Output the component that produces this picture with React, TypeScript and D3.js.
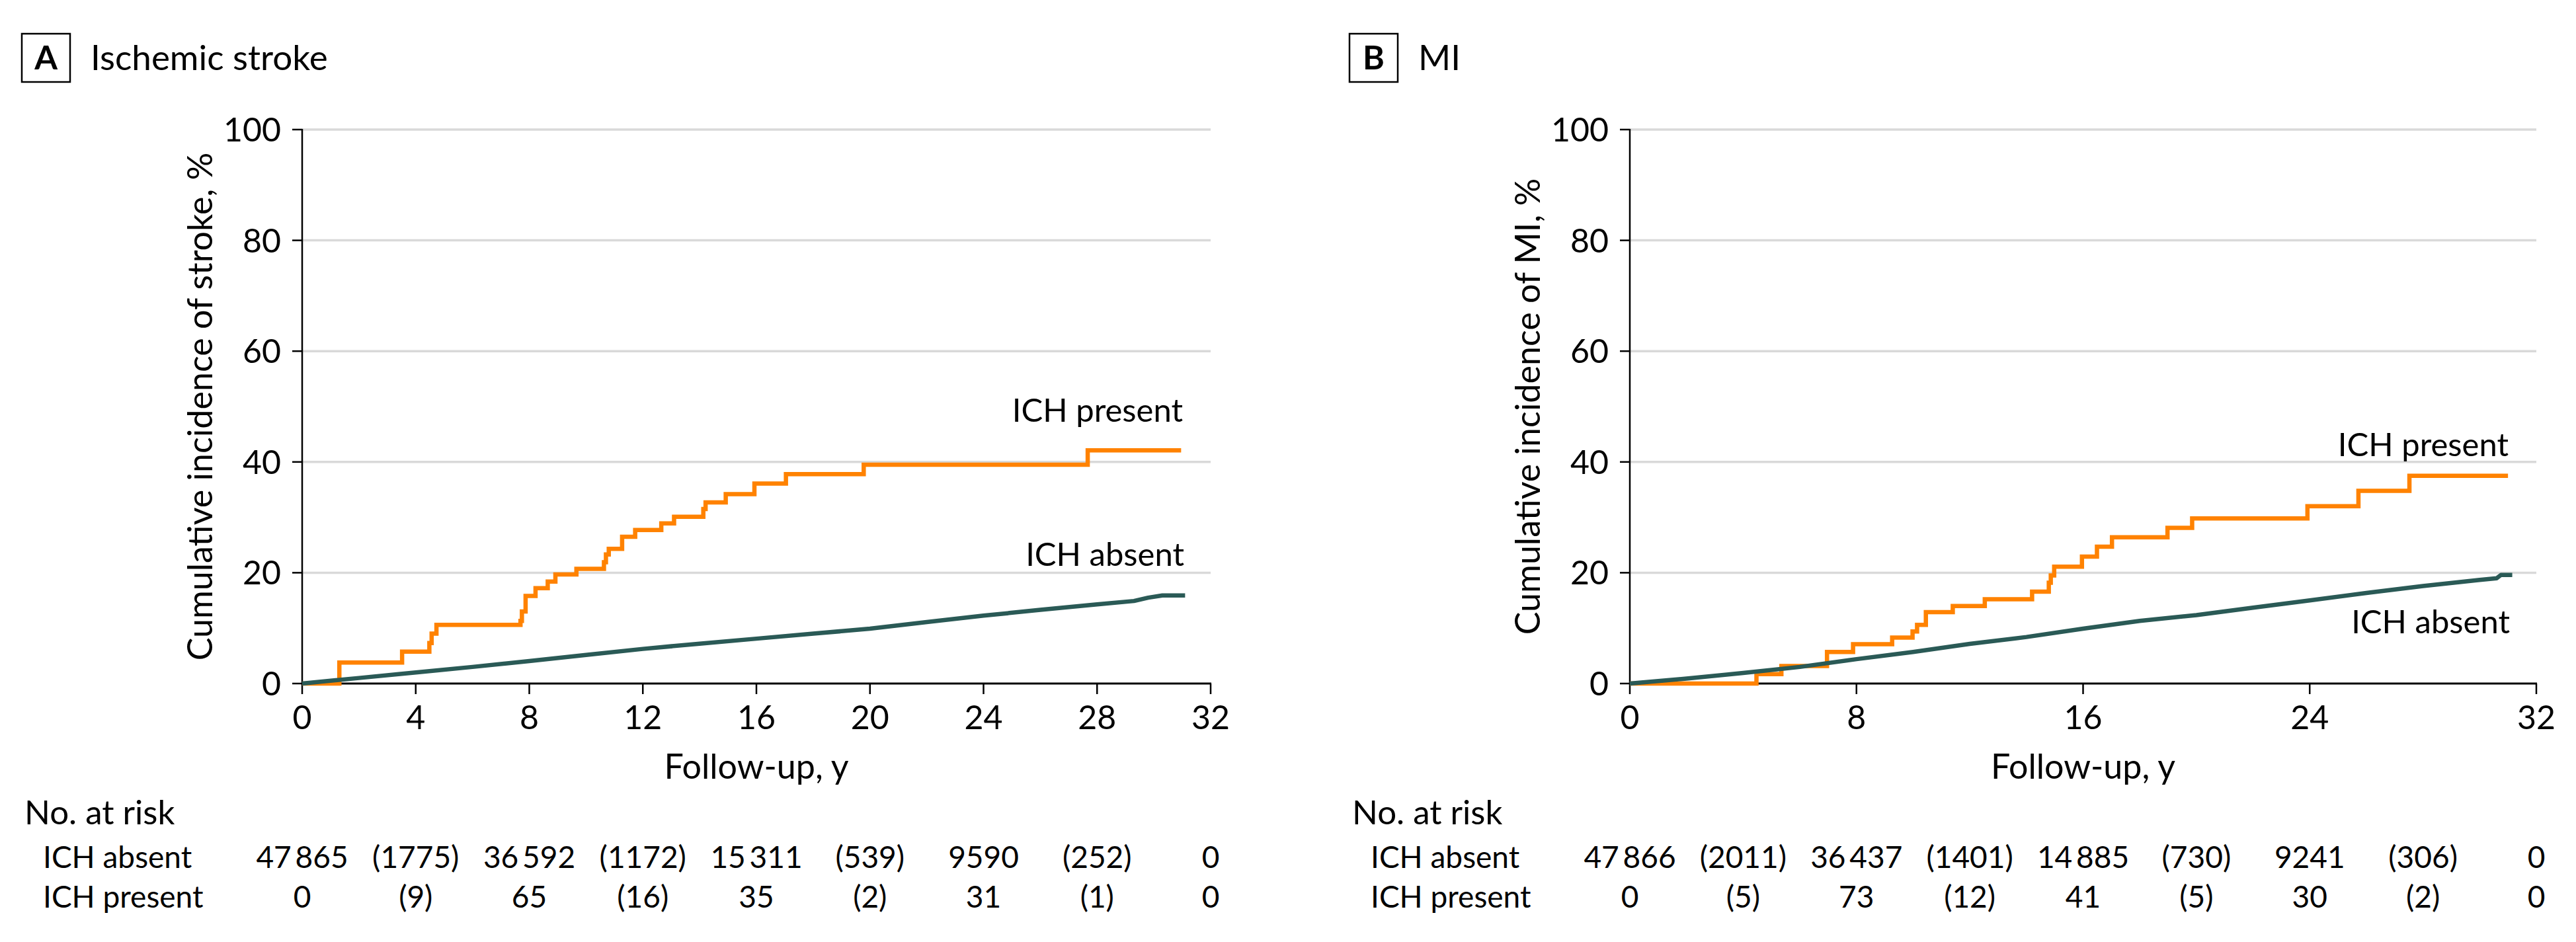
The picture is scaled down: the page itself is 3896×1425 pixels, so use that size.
import React from "react";
import * as d3 from "d3";

// ---------- data ----------
const yTicks = [0, 20, 40, 60, 80, 100];
const xTicksA = [0, 4, 8, 12, 16, 20, 24, 28, 32];
const xTicksB = [0, 8, 16, 24, 32];
const riskYears = [0, 4, 8, 12, 16, 20, 24, 28, 32];

// Panel A: Ischemic stroke
const strokePresentT = [0, 1.31, 3.52, 4.48, 4.56, 4.73, 7.69, 7.74, 7.87, 8.22, 8.65, 8.92, 9.66, 10.63, 10.7, 10.8, 11.27, 11.73, 12.65, 13.1, 14.13, 14.21, 14.92, 15.93, 17.04, 19.78, 27.67, 30.96];
const strokePresentV = [0, 3.8, 5.75, 7.3, 9.0, 10.6, 11.3, 13.0, 15.8, 17.2, 18.4, 19.7, 20.7, 21.9, 23.3, 24.3, 26.5, 27.7, 28.9, 30.1, 31.5, 32.7, 34.2, 36.1, 37.8, 39.5, 42.1, 42.1];
const strokeAbsentT = [0, 2, 4, 6, 8, 10, 12, 14, 16, 18, 20, 22, 24, 26, 28, 29.3, 29.8, 30.3, 31.1];
const strokeAbsentV = [0, 1.0, 2.0, 3.0, 4.05, 5.15, 6.25, 7.2, 8.1, 9.0, 9.9, 11.1, 12.25, 13.3, 14.3, 14.9, 15.5, 15.9, 15.9];
const strokeRiskAbsent = ["47\u2009865", "(1775)", "36\u2009592", "(1172)", "15\u2009311", "(539)", "9590", "(252)", "0"];
const strokeRiskPresent = ["0", "(9)", "65", "(16)", "35", "(2)", "31", "(1)", "0"];

// Panel B: MI
const miPresentT = [0, 4.47, 5.35, 6.96, 7.88, 9.26, 9.98, 10.14, 10.45, 11.4, 12.53, 14.2, 14.79, 14.86, 14.98, 15.96, 16.49, 17.02, 18.98, 19.85, 23.92, 25.72, 27.52, 31.0];
const miPresentV = [0, 1.7, 3.15, 5.7, 7.1, 8.3, 9.4, 10.6, 12.9, 14.0, 15.2, 16.6, 18.2, 19.5, 21.1, 22.9, 24.7, 26.4, 28.1, 29.8, 32.0, 34.8, 37.5, 37.5];
const miAbsentT = [0, 2, 4, 6, 8, 10, 12, 14, 16, 18, 20, 22, 24, 26, 28, 30, 30.6, 30.75, 31.15];
const miAbsentV = [0, 0.9, 1.9, 3.0, 4.4, 5.7, 7.15, 8.4, 9.9, 11.3, 12.35, 13.7, 15.0, 16.35, 17.6, 18.7, 19.0, 19.6, 19.6];
const miRiskAbsent = ["47\u2009866", "(2011)", "36\u2009437", "(1401)", "14\u2009885", "(730)", "9241", "(306)", "0"];
const miRiskPresent = ["0", "(5)", "73", "(12)", "41", "(5)", "30", "(2)", "0"];

// ---------- style ----------
const FONT = "Lato, 'Open Sans', sans-serif";
const ORANGE = "#FF8200";
const TEAL = "#2A5A56";
const GRID = "#D9D9D9";

type PanelProps = {
  letter: string;
  title: string;
  yLabel: string;
  x0: number;
  x1: number;
  xTicks: number[];
  presentT: number[];
  presentV: number[];
  absentT: number[];
  absentV: number[];
  riskAbsent: string[];
  riskPresent: string[];
  presentLabelY: number;
  absentLabelY: number;
};

function Panel(p: PanelProps) {
  const yTop = 196;
  const yBot = 1034;
  const x = d3.scaleLinear().domain([0, 32]).range([p.x0, p.x1]);
  const y = d3.scaleLinear().domain([0, 100]).range([yBot, yTop]);

  const stepLine = d3
    .line<[number, number]>()
    .x((d) => x(d[0]))
    .y((d) => y(d[1]))
    .curve(d3.curveStepAfter);
  const linLine = d3
    .line<[number, number]>()
    .x((d) => x(d[0]))
    .y((d) => y(d[1]));

  const presentPts = p.presentT.map((t, i) => [t, p.presentV[i]] as [number, number]);
  const absentPts = p.absentT.map((t, i) => [t, p.absentV[i]] as [number, number]);

  const boxX = p.x0 - 424;
  const yMid = (yTop + yBot) / 2;

  return (
    <g fontFamily={FONT} fill="#000">
      {/* title */}
      <rect x={boxX} y={51} width={73} height={73} fill="none" stroke="#000" strokeWidth={2.5} />
      <text x={boxX + 36.5} y={105} textAnchor="middle" fontSize={50} fontWeight={700}>
        {p.letter}
      </text>
      <text x={boxX + 104} y={106} fontSize={53}>
        {p.title}
      </text>

      {/* gridlines */}
      {yTicks
        .filter((v) => v > 0)
        .map((v) => (
          <line key={"g" + v} x1={p.x0} x2={p.x1} y1={y(v)} y2={y(v)} stroke={GRID} strokeWidth={3.5} />
        ))}

      {/* y axis */}
      <line x1={p.x0} x2={p.x0} y1={y(100) - 1} y2={y(0)} stroke="#000" strokeWidth={2.5} />
      {yTicks.map((v) => (
        <g key={"yt" + v}>
          <line x1={p.x0 - 15} x2={p.x0} y1={y(v)} y2={y(v)} stroke="#000" strokeWidth={2.5} />
          <text x={p.x0 - 32} y={y(v)} dy="0.36em" textAnchor="end" fontSize={50}>
            {v}
          </text>
        </g>
      ))}
      <text
        transform={`translate(${p.x0 - 136},${yMid}) rotate(-90)`}
        textAnchor="middle"
        fontSize={52}
      >
        {p.yLabel}
      </text>

      {/* x axis */}
      <line x1={p.x0 - 1} x2={p.x1 + 1} y1={y(0)} y2={y(0)} stroke="#000" strokeWidth={3} />
      {p.xTicks.map((t) => (
        <g key={"xt" + t}>
          <line x1={x(t)} x2={x(t)} y1={y(0)} y2={y(0) + 16} stroke="#000" strokeWidth={2.5} />
          <text x={x(t)} y={1103} textAnchor="middle" fontSize={50}>
            {t}
          </text>
        </g>
      ))}
      <text x={(p.x0 + p.x1) / 2} y={1178} textAnchor="middle" fontSize={52}>
        Follow-up, y
      </text>

      {/* curves */}
      <path d={stepLine(presentPts) || ""} fill="none" stroke={ORANGE} strokeWidth={6.5} />
      <path d={linLine(absentPts) || ""} fill="none" stroke={TEAL} strokeWidth={6.5} strokeLinejoin="round" />

      {/* line labels */}
      <text x={p.x1 - 42} y={p.presentLabelY} textAnchor="end" fontSize={49}>
        ICH present
      </text>
      <text x={p.x1 - 40} y={p.absentLabelY} textAnchor="end" fontSize={49}>
        ICH absent
      </text>

      {/* risk table */}
      <text x={p.x0 - 420} y={1247} fontSize={51}>
        No. at risk
      </text>
      <text x={p.x0 - 392} y={1313} fontSize={46}>
        ICH absent
      </text>
      <text x={p.x0 - 392} y={1373} fontSize={46}>
        ICH present
      </text>
      {riskYears.map((t, i) => (
        <g key={"r" + t}>
          <text x={x(t)} y={1313} textAnchor="middle" fontSize={46}>
            {p.riskAbsent[i]}
          </text>
          <text x={x(t)} y={1373} textAnchor="middle" fontSize={46}>
            {p.riskPresent[i]}
          </text>
        </g>
      ))}
    </g>
  );
}

export default function App() {
  return (
    <svg
      width={3896}
      height={1425}
      viewBox="0 0 3896 1425"
      style={{ position: "absolute", left: 0, top: 0, background: "#fff" }}
    >
      <rect x={0} y={0} width={3896} height={1425} fill="#fff" />
      <Panel
        letter="A"
        title="Ischemic stroke"
        yLabel="Cumulative incidence of stroke, %"
        x0={457}
        x1={1831}
        xTicks={xTicksA}
        presentT={strokePresentT}
        presentV={strokePresentV}
        absentT={strokeAbsentT}
        absentV={strokeAbsentV}
        riskAbsent={strokeRiskAbsent}
        riskPresent={strokeRiskPresent}
        presentLabelY={638}
        absentLabelY={856}
      />
      <Panel
        letter="B"
        title="MI"
        yLabel="Cumulative incidence of MI, %"
        x0={2465}
        x1={3836}
        xTicks={xTicksB}
        presentT={miPresentT}
        presentV={miPresentV}
        absentT={miAbsentT}
        absentV={miAbsentV}
        riskAbsent={miRiskAbsent}
        riskPresent={miRiskPresent}
        presentLabelY={690}
        absentLabelY={958}
      />
    </svg>
  );
}
